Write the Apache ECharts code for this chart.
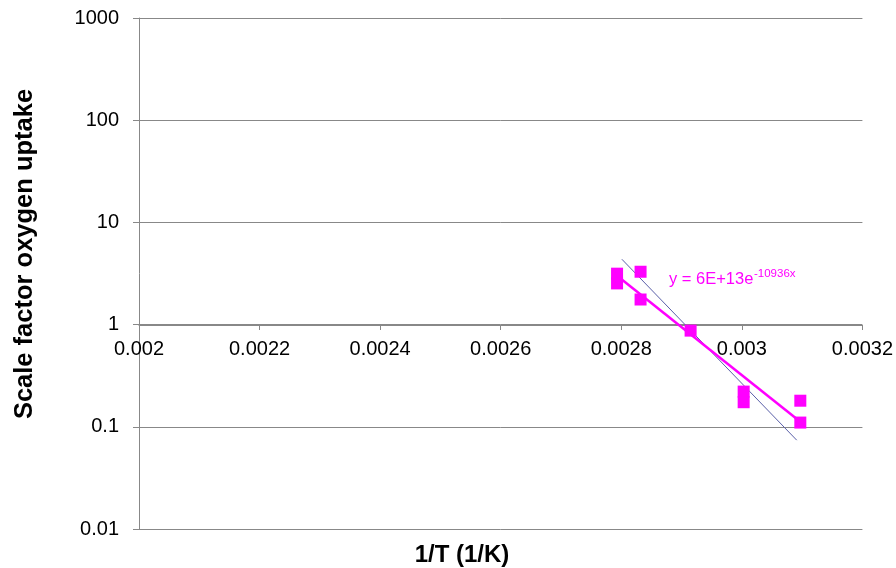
<!DOCTYPE html>
<html>
<head>
<meta charset="utf-8">
<script src="https://cdn.jsdelivr.net/npm/echarts@6/dist/echarts.min.js"></script>
<style>
html,body{margin:0;padding:0;background:#fff;}
#main{width:896px;height:568px;}
</style>
</head>
<body>
<div id="main"></div>
<script>
// ---- data ----
var xValues = [0.002793, 0.002793, 0.002832, 0.002832, 0.002915, 0.003003, 0.003003, 0.003097, 0.003097];
var yValues = [3.15, 2.53, 3.29, 1.76, 0.873, 0.221, 0.174, 0.180, 0.110];
// exponential trendline (straight on log axis), endpoints
var trendX = [0.002793, 0.003097];
var trendY = [3.0, 0.112];
// thin blue reference line endpoints
var blueX = [0.002801, 0.003091];
var blueY = [4.36, 0.074];
var yTicks = [0.01, 0.1, 1, 10, 100, 1000];
var xTicks = [0.002, 0.0022, 0.0024, 0.0026, 0.0028, 0.003, 0.0032];
var xTitle = '1/T (1/K)';
var yTitle = 'Scale factor oxygen uptake';
var eqMain = 'y = 6E+13e';
var eqSup = '-10936x';

function pairs(xs, ys){ return xs.map(function(x,i){ return [x, ys[i]]; }); }

var chart = echarts.init(document.getElementById('main'), null, {renderer:'canvas'});
var font = 'Liberation Sans, Arial, sans-serif';
var option = {
  animation: false,
  backgroundColor: '#ffffff',
  grid: {left: 139, right: 31, top: 18, bottom: 39, containLabel: false},
  xAxis: {
    type: 'value',
    min: xTicks[0], max: xTicks[xTicks.length-1], interval: 0.0002,
    offset: -204,
    axisLine: {show: true, lineStyle: {color: '#888888', width: 1}},
    axisTick: {show: true, length: 5, inside: false, lineStyle: {color: '#888888'}},
    axisLabel: {color: '#000', fontSize: 20, fontFamily: font, margin: 14,
      formatter: function(v){ return String(parseFloat(v.toPrecision(6))); }},
    splitLine: {show: false}
  },
  yAxis: {
    type: 'log', logBase: 10,
    min: yTicks[0], max: yTicks[yTicks.length-1],
    axisLine: {show: true, lineStyle: {color: '#888888', width: 1}},
    axisTick: {show: true, length: 6, inside: false, lineStyle: {color: '#888888'}},
    axisLabel: {color: '#000', fontSize: 20, fontFamily: font, margin: 20,
      formatter: function(v){ return String(parseFloat(Number(v).toPrecision(6))); }},
    splitLine: {show: true, lineStyle: {color: '#888888', width: 1}},
    minorTick: {show: false}
  },
  series: [
    {
      type: 'line', data: pairs(blueX, blueY), symbol: 'none', z: 2,
      lineStyle: {color: '#5a5fa8', width: 1}
    },
    {
      type: 'line', data: pairs(trendX, trendY), symbol: 'none', z: 3,
      lineStyle: {color: '#ff00ff', width: 2.5}
    },
    {
      type: 'scatter', data: pairs(xValues, yValues), symbol: 'rect', symbolSize: 12, z: 4,
      itemStyle: {color: '#ff00ff', opacity: 1}
    }
  ],
  graphic: [
    {type: 'text', x: 25, y: 254, rotation: Math.PI/2,
      style: {text: yTitle, font: 'bold 25.5px ' + font, fill: '#000', textAlign: 'center', textVerticalAlign: 'middle'}},
    {type: 'text', x: 462, y: 555,
      style: {text: xTitle, font: 'bold 24px ' + font, fill: '#000', textAlign: 'center', textVerticalAlign: 'middle'}},
    {type: 'text', x: 669, y: 279,
      style: {text: eqMain, font: '16.5px ' + font, fill: '#ff00ff', textAlign: 'left', textVerticalAlign: 'middle'}},
    {type: 'text', x: 754, y: 274,
      style: {text: eqSup, font: '11.5px ' + font, fill: '#ff00ff', textAlign: 'left', textVerticalAlign: 'middle'}}
  ]
};
chart.setOption(option);
</script>
</body>
</html>
